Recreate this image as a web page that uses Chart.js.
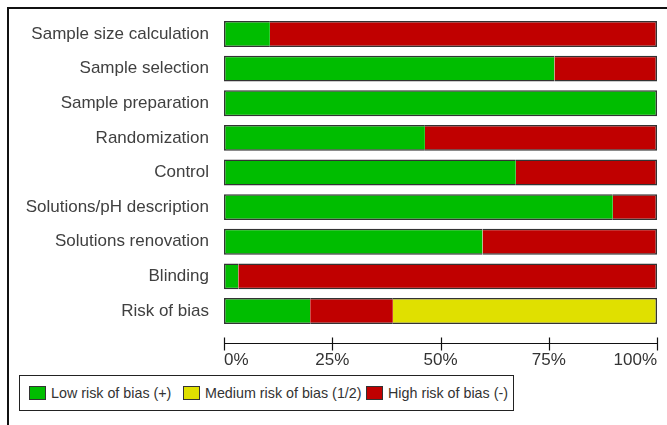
<!DOCTYPE html>
<html>
<head>
<meta charset="utf-8">
<script src="https://cdn.jsdelivr.net/npm/chart.js@4/dist/chart.umd.min.js"></script>
<style>
  html, body { margin:0; padding:0; background:#fff; overflow:hidden; width:667px; height:425px; }
  #frame { position:absolute; left:7px; top:7px; width:660px; height:418px; border-left:2px solid #111; border-top:2px solid #111; box-sizing:border-box; }
  #wrap { position:absolute; left:0; top:0; width:667px; height:425px; }
  #legend { position:absolute; left:19px; top:375px; width:495px; height:36px; border:1px solid #222; box-sizing:border-box;
            font-family:"Liberation Sans", Arial, sans-serif; font-size:14.3px; color:#333; background:#fff; white-space:nowrap; }
  .item { position:absolute; top:9px; display:flex; align-items:center; }
  .sw { width:17px; height:14px; border:1px solid #333; box-sizing:border-box; margin-right:5px; flex:none; }
</style>
</head>
<body>
<div id="frame"></div>
<div id="wrap"><canvas id="c" width="667" height="425"></canvas></div>
<div id="legend"></div>
<script>
const categories = ["Sample size calculation","Sample selection","Sample preparation","Randomization","Control","Solutions/pH description","Solutions renovation","Blinding","Risk of bias"];
const lowRisk    = [10.6, 76.3, 100, 46.4, 67.4, 89.8, 59.7, 3.3, 19.9];
const highRisk   = [89.4, 23.7, 0, 53.6, 32.6, 10.2, 40.3, 96.7, 19.1];
const mediumRisk = [0, 0, 0, 0, 0, 0, 0, 0, 61.0];
const tickValues = [0, 25, 50, 75, 100];
const seriesNames = { low: "Low risk of bias (+)", medium: "Medium risk of bias (1/2)", high: "High risk of bias (-)" };
const colors = { low: "#00bd00", medium: "#e0e000", high: "#c00000" };

const FONT = '"Liberation Sans", Arial, sans-serif';
const stackOrder = [lowRisk, highRisk, mediumRisk];

function bw(ctx) {
  const i = ctx.dataIndex, d = ctx.datasetIndex;
  let first = -1, last = -1;
  stackOrder.forEach((arr, k) => { if (arr[i] > 0) { if (first < 0) first = k; last = k; } });
  return { top: 1.5, bottom: 1.5, left: d === first ? 1.5 : 0, right: d === last ? 1.5 : 0 };
}

const axisPlugin = {
  id: 'axisLine',
  afterDraw(chart) {
    const x = chart.scales.x, ctx = chart.ctx;
    const y = Math.round(chart.chartArea.bottom + 14.7) + 0.5;
    ctx.save();
    ctx.strokeStyle = '#111';
    ctx.lineWidth = 1.2;
    ctx.beginPath();
    ctx.moveTo(x.getPixelForValue(tickValues[0]), y);
    ctx.lineTo(x.getPixelForValue(tickValues[tickValues.length-1]), y);
    tickValues.forEach(v => {
      const px = Math.round(x.getPixelForValue(v)) + 0.5;
      ctx.moveTo(px, y - 6);
      ctx.lineTo(px, y + 7);
    });
    ctx.stroke();
    ctx.restore();
  }
};

const chart = new Chart(document.getElementById('c'), {
  type: 'bar',
  data: {
    labels: categories,
    datasets: [
      { label: seriesNames.low, data: lowRisk, backgroundColor: colors.low },
      { label: seriesNames.high, data: highRisk, backgroundColor: colors.high },
      { label: seriesNames.medium, data: mediumRisk, backgroundColor: colors.medium }
    ].map(d => Object.assign(d, { borderColor: '#333', borderWidth: bw, borderSkipped: false, barPercentage: 1, categoryPercentage: 0.75 }))
  },
  options: {
    indexAxis: 'y',
    responsive: false,
    animation: false,
    devicePixelRatio: 1,
    layout: { padding: { top: 16.7, right: 10, left: 0, bottom: 0 } },
    plugins: { legend: { display: false }, tooltip: { enabled: false } },
    scales: {
      x: {
        stacked: true, min: 0, max: 100,
        grid: { display: false, drawTicks: false },
        border: { display: false },
        afterFit(s) { s.height = 96.7; s.paddingLeft = 0; s.paddingRight = 0; },
        afterBuildTicks(s) { s.ticks = tickValues.map(v => ({ value: v })); },
        ticks: { padding: 22, align: 'inner', maxRotation: 0, color: '#333', font: { family: FONT, size: 17 }, callback: v => v + '%' }
      },
      y: {
        stacked: true,
        grid: { display: false, drawTicks: false },
        border: { display: false },
        afterFit(s) { s.width = 224; s.paddingTop = 0; s.paddingBottom = 0; },
        ticks: { padding: 15, color: '#404040', font: { family: FONT, size: 17 } }
      }
    }
  },
  plugins: [axisPlugin]
});

const legendItems = [['low', colors.low, 9], ['medium', colors.medium, 163], ['high', colors.high, 346]];
const lg = document.getElementById('legend');
legendItems.forEach(([k, c, left]) => {
  const it = document.createElement('div'); it.className = 'item'; it.style.left = left + 'px';
  const sw = document.createElement('div'); sw.className = 'sw'; sw.style.background = c;
  const tx = document.createElement('span'); tx.textContent = seriesNames[k];
  it.appendChild(sw); it.appendChild(tx); lg.appendChild(it);
});
</script>
</body>
</html>
